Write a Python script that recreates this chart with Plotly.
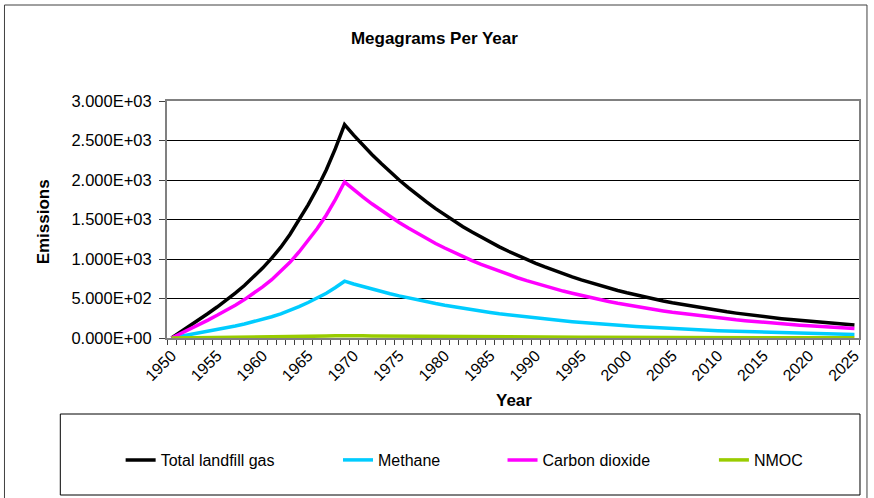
import plotly.graph_objects as go

# Landfill gas emission estimates, megagrams per year
years = list(range(1950, 2026))

total_landfill_gas = [
    0, 75, 152, 230, 310, 392, 478, 568, 665, 770,
    885, 1010, 1150, 1310, 1490, 1685, 1895, 2130, 2400, 2700,
    2568, 2443, 2324, 2211, 2103, 2000, 1903, 1810, 1722, 1638,
    1558, 1482, 1409, 1341, 1275, 1213, 1154, 1098, 1044, 993,
    945, 899, 855, 813, 774, 736, 700, 666, 633, 602,
    573, 545, 519, 493, 469, 446, 425, 404, 384, 365,
    348, 331, 315, 299, 285, 271, 258, 245, 233, 222,
    211, 201, 191, 182, 173, 164,
]

methane = [
    0, 20, 40, 61, 83, 104, 127, 151, 177, 205,
    236, 269, 306, 349, 397, 449, 505, 567, 639, 719,
    684, 651, 619, 589, 560, 533, 507, 482, 459, 436,
    415, 395, 375, 357, 340, 323, 307, 293, 278, 265,
    252, 239, 228, 217, 206, 196, 186, 177, 169, 160,
    153, 145, 138, 131, 125, 119, 113, 108, 102, 97,
    93, 88, 84, 80, 76, 72, 69, 65, 62, 59,
    56, 54, 51, 48, 46, 44,
]

carbon_dioxide = [
    0, 55, 111, 168, 227, 287, 349, 415, 486, 563,
    647, 738, 841, 958, 1089, 1232, 1385, 1557, 1754, 1974,
    1877, 1786, 1699, 1616, 1537, 1462, 1391, 1323, 1259, 1197,
    1139, 1083, 1030, 980, 932, 887, 844, 803, 763, 726,
    691, 657, 625, 594, 566, 538, 512, 487, 463, 440,
    419, 398, 379, 360, 343, 326, 311, 295, 281, 267,
    254, 242, 230, 219, 208, 198, 189, 179, 170, 162,
    154, 147, 140, 133, 126, 120,
]

nmoc = [
    0, 0.9, 1.7, 2.6, 3.5, 4.5, 5.4, 6.5, 7.6, 8.8,
    10.1, 11.5, 13.1, 14.9, 17.0, 19.2, 21.6, 24.3, 27.4, 30.8,
    29.3, 27.9, 26.5, 25.2, 24.0, 22.8, 21.7, 20.6, 19.6, 18.7,
    17.8, 16.9, 16.1, 15.3, 14.5, 13.8, 13.2, 12.5, 11.9, 11.3,
    10.8, 10.2, 9.7, 9.3, 8.8, 8.4, 8.0, 7.6, 7.2, 6.9,
    6.5, 6.2, 5.9, 5.6, 5.3, 5.1, 4.8, 4.6, 4.4, 4.2,
    4.0, 3.8, 3.6, 3.4, 3.2, 3.1, 2.9, 2.8, 2.7, 2.5,
    2.4, 2.3, 2.2, 2.1, 2.0, 1.9,
]

series_names = ["Total landfill gas", "Methane", "Carbon dioxide", "NMOC"]
series_values = [total_landfill_gas, methane, carbon_dioxide, nmoc]
series_colors = ["#000000", "#00CCFF", "#FF00FF", "#99CC00"]

y_tick_values = [0, 500, 1000, 1500, 2000, 2500, 3000]
y_tick_labels = ["0.000E+00", "5.000E+02", "1.000E+03", "1.500E+03",
                 "2.000E+03", "2.500E+03", "3.000E+03"]
x_label_years = list(range(1950, 2026, 5))

FONT = "Arial, 'Liberation Sans', sans-serif"

# pixel geometry of the plotting area inside the 874x498 canvas
W, H = 874, 498
PL, PR, PT, PB = 167, 861, 101, 338
pw, ph = PR - PL, PB - PT


def px_x(x):
    return (x - PL) / pw


def px_y(y):
    return (PB - y) / ph


fig = go.Figure()
legend_ids = ["legend", "legend2", "legend3", "legend4"]
for name, vals, col, lid in zip(series_names, series_values, series_colors, legend_ids):
    fig.add_trace(go.Scatter(
        x=years, y=vals, name=name, mode="lines",
        line=dict(color=col, width=3.5),
        legend=lid, hoverinfo="x+y+name",
    ))

# legend entries, one per series, laid out along the framed strip
legend_centers = [140.5, 358.5, 523.5, 735.5]
legend_layout = {}
for lid, cx in zip(legend_ids, legend_centers):
    legend_layout[lid] = dict(
        x=px_x(cx - 20), xanchor="left",
        y=px_y(460), yanchor="middle",
        bgcolor="rgba(0,0,0,0)", borderwidth=0,
        font=dict(family=FONT, size=16, color="#000000"),
        orientation="h",
    )

fig.update_layout(
    width=W, height=H,
    margin=dict(l=PL, r=W - PR, t=PT, b=H - PB),
    paper_bgcolor="#FFFFFF", plot_bgcolor="#FFFFFF",
    showlegend=True,
    title=dict(
        text="<b>Megagrams Per Year</b>",
        x=0.497, xref="container", xanchor="center",
        y=1 - 38 / H, yref="container", yanchor="middle",
        font=dict(family=FONT, size=17, color="#000000"),
    ),
    xaxis=dict(
        range=[1949.5, 2025.5],
        tickmode="array", tickvals=x_label_years,
        ticktext=[str(y) for y in x_label_years],
        tickangle=-45, ticks="",
        tickfont=dict(family=FONT, size=16, color="#000000"),
        showgrid=False, zeroline=False,
        showline=True, linecolor="#808080", linewidth=2, mirror=True,
        minor=dict(
            tickmode="array",
            tickvals=[y - 0.5 for y in years] + [years[-1] + 0.5],
            ticks="outside", ticklen=5, tickwidth=1, tickcolor="#404040",
            showgrid=False,
        ),
        fixedrange=True,
    ),
    yaxis=dict(
        range=[0, 3000],
        tickmode="array", tickvals=y_tick_values, ticktext=y_tick_labels,
        ticks="outside", ticklen=6, tickwidth=1, tickcolor="#404040",
        ticklabelstandoff=4,
        tickfont=dict(family=FONT, size=16.5, color="#000000"),
        showgrid=True, gridcolor="#000000", gridwidth=1,
        zeroline=False,
        showline=True, linecolor="#808080", linewidth=2, mirror=True,
        fixedrange=True,
    ),
    annotations=[
        dict(text="<b>Emissions</b>", xref="paper", yref="paper",
             x=px_x(43), y=px_y(222), textangle=-90, showarrow=False,
             xanchor="center", yanchor="middle",
             font=dict(family=FONT, size=17, color="#000000")),
        dict(text="<b>Year</b>", xref="paper", yref="paper",
             x=px_x(515), y=px_y(400), showarrow=False,
             xanchor="center", yanchor="middle",
             font=dict(family=FONT, size=17, color="#000000")),
    ],
    shapes=[
        # outer chart frame
        dict(type="rect", xref="paper", yref="paper",
             x0=px_x(4), x1=px_x(869), y0=px_y(H + 5), y1=px_y(5),
             line=dict(color="#404040", width=1), fillcolor="rgba(0,0,0,0)",
             layer="below"),
        # legend frame
        dict(type="rect", xref="paper", yref="paper",
             x0=px_x(60), x1=px_x(862), y0=px_y(495), y1=px_y(414),
             line=dict(color="#000000", width=1), fillcolor="rgba(0,0,0,0)",
             layer="below"),
    ],
    **legend_layout,
)

fig.write_html("out.html")
